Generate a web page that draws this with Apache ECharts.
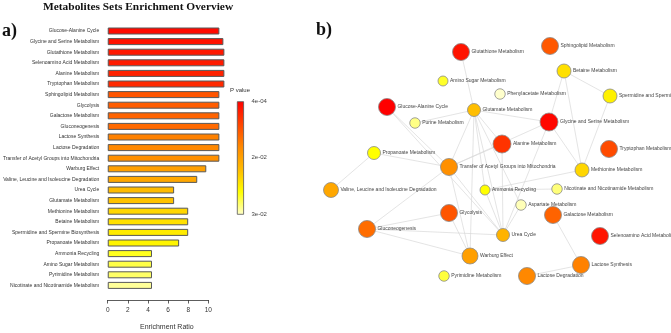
<!DOCTYPE html>
<html>
<head>
<meta charset="utf-8">
<script src="https://cdn.jsdelivr.net/npm/echarts@6/dist/echarts.min.js"></script>
<style>
html,body{margin:0;padding:0;background:#fff;}
#main{width:671px;height:333px;}
</style>
</head>
<body>
<div id="main"></div>
<script>
/* a) 富集条形图 */
var barSets = [
  'Glucose-Alanine Cycle', 'Glycine and Serine Metabolism', 'Glutathione Metabolism',
  'Selenoamino Acid Metabolism', 'Alanine Metabolism', 'Tryptophan Metabolism',
  'Sphingolipid Metabolism', 'Glycolysis', 'Galactose Metabolism', 'Gluconeogenesis',
  'Lactose Synthesis', 'Lactose Degradation', 'Transfer of Acetyl Groups into Mitochondria',
  'Warburg Effect', 'Valine, Leucine and Isoleucine Degradation', 'Urea Cycle',
  'Glutamate Metabolism', 'Methionine Metabolism', 'Betaine Metabolism',
  'Spermidine and Spermine Biosynthesis', 'Propanoate Metabolism', 'Ammonia Recycling',
  'Amino Sugar Metabolism', 'Pyrimidine Metabolism', 'Nicotinate and Nicotinamide Metabolism'
];
var enrichRatio = [11.1, 11.5, 11.6, 11.6, 11.6, 11.6, 11.1, 11.1, 11.1, 11.1, 11.1, 11.1, 11.1,
  9.8, 8.9, 6.6, 6.6, 8.0, 8.0, 8.0, 7.1, 4.4, 4.4, 4.4, 4.4];
// 在P值色条上的位置: 0 = 4e-04 (红), 1 = 3e-02 (浅黄)
var barColorPos = [0.03, 0.05, 0.07, 0.08, 0.10, 0.12, 0.25, 0.27, 0.29, 0.31, 0.38, 0.40, 0.43,
  0.49, 0.52, 0.60, 0.62, 0.68, 0.71, 0.74, 0.77, 0.83, 0.87, 0.90, 0.95];

var xTicks = [0, 2, 4, 6, 8, 10];
var pLabels = ['4e-04', '2e-02', '3e-02'];
var pPalette = ['#ff0000', '#ff4400', '#ff8800', '#ffbb00', '#ffff00', '#ffffcc'];

/* b) 网络图 */
var nodeNames = [
  'Glutathione Metabolism', 'Amino Sugar Metabolism', 'Glucose-Alanine Cycle', 'Glutamate Metabolism',
  'Purine Metabolism', 'Propanoate Metabolism', 'Transfer of Acetyl Groups into Mitochondria',
  'Sphingolipid Metabolism', 'Betaine Metabolism', 'Phenylacetate Metabolism',
  'Spermidine and Spermine Biosynthesis', 'Glycine and Serine Metabolism', 'Alanine Metabolism',
  'Tryptophan Metabolism', 'Methionine Metabolism', 'Valine, Leucine and Isoleucine Degradation',
  'Ammonia Recycling', 'Nicotinate and Nicotinamide Metabolism', 'Aspartate Metabolism',
  'Glycolysis', 'Galactose Metabolism', 'Gluconeogenesis', 'Urea Cycle',
  'Selenoamino Acid Metabolism', 'Warburg Effect', 'Lactose Synthesis',
  'Pyrimidine Metabolism', 'Lactose Degradation'
];
var nodeX = [161, 143, 87, 174, 115, 74, 149, 250, 264, 200, 310, 249, 202, 309, 282, 31,
  185, 257, 221, 149, 253, 67, 203, 300, 170, 281, 144, 227];
var nodeY = [52, 81, 107, 110, 123, 153, 167, 46, 71, 94, 96, 122, 144, 149, 170, 190,
  190, 189, 205, 213, 215, 229, 235, 236, 256, 265, 276, 276];
var nodeSize = [17, 10, 17, 13, 10.5, 13, 17, 17, 14, 10.5, 14, 18, 18, 17, 14, 15,
  10, 10.5, 10.5, 17, 17, 17, 13, 17, 16, 17, 10.5, 17];
var nodeColorPos = [0.06, 0.84, 0.0, 0.61, 0.93, 0.80, 0.43, 0.26, 0.71, 1.0, 0.76, 0.02, 0.15,
  0.22, 0.68, 0.52, 0.80, 0.92, 0.98, 0.25, 0.29, 0.32, 0.57, 0.06, 0.49, 0.38, 0.86, 0.40];
var edges = [
  ['Glutathione Metabolism', 'Glutamate Metabolism'],
  ['Glucose-Alanine Cycle', 'Transfer of Acetyl Groups into Mitochondria'],
  ['Glucose-Alanine Cycle', 'Urea Cycle'],
  ['Purine Metabolism', 'Glutamate Metabolism'],
  ['Propanoate Metabolism', 'Transfer of Acetyl Groups into Mitochondria'],
  ['Propanoate Metabolism', 'Valine, Leucine and Isoleucine Degradation'],
  ['Glutamate Metabolism', 'Transfer of Acetyl Groups into Mitochondria'],
  ['Glutamate Metabolism', 'Alanine Metabolism'],
  ['Glutamate Metabolism', 'Glycine and Serine Metabolism'],
  ['Glutamate Metabolism', 'Ammonia Recycling'],
  ['Glutamate Metabolism', 'Urea Cycle'],
  ['Glutamate Metabolism', 'Warburg Effect'],
  ['Glutamate Metabolism', 'Aspartate Metabolism'],
  ['Betaine Metabolism', 'Glycine and Serine Metabolism'],
  ['Betaine Metabolism', 'Spermidine and Spermine Biosynthesis'],
  ['Betaine Metabolism', 'Methionine Metabolism'],
  ['Spermidine and Spermine Biosynthesis', 'Methionine Metabolism'],
  ['Glycine and Serine Metabolism', 'Methionine Metabolism'],
  ['Glycine and Serine Metabolism', 'Urea Cycle'],
  ['Alanine Metabolism', 'Transfer of Acetyl Groups into Mitochondria'],
  ['Alanine Metabolism', 'Urea Cycle'],
  ['Transfer of Acetyl Groups into Mitochondria', 'Gluconeogenesis'],
  ['Transfer of Acetyl Groups into Mitochondria', 'Warburg Effect'],
  ['Transfer of Acetyl Groups into Mitochondria', 'Urea Cycle'],
  ['Transfer of Acetyl Groups into Mitochondria', 'Glycine and Serine Metabolism'],
  ['Gluconeogenesis', 'Glycolysis'],
  ['Gluconeogenesis', 'Warburg Effect'],
  ['Gluconeogenesis', 'Urea Cycle'],
  ['Glycolysis', 'Warburg Effect'],
  ['Ammonia Recycling', 'Urea Cycle'],
  ['Ammonia Recycling', 'Methionine Metabolism'],
  ['Ammonia Recycling', 'Nicotinate and Nicotinamide Metabolism'],
  ['Aspartate Metabolism', 'Urea Cycle'],
  ['Galactose Metabolism', 'Lactose Synthesis'],
  ['Lactose Synthesis', 'Lactose Degradation']
];

function pColor(t) {
  return echarts.color.lerp(t, pPalette);
}

var sansFont = '"Liberation Sans", Arial, sans-serif';
var serifFont = '"Liberation Serif", "Times New Roman", serif';

var myChart = echarts.init(document.getElementById('main'));

var option = {
  animation: false,
  backgroundColor: '#fff',
  grid: [
    {left: 107.7, top: 25.7, width: 100.6, height: 265},
    {left: 300, top: 0, width: 371, height: 333}
  ],
  xAxis: [
    {
      gridIndex: 0,
      type: 'value',
      min: xTicks[0],
      max: xTicks[xTicks.length - 1],
      interval: 2,
      offset: 9.3,
      splitLine: {show: false},
      axisLine: {show: true, lineStyle: {color: '#333', width: 0.8}},
      axisTick: {show: true, length: 3.5, lineStyle: {color: '#333', width: 0.8}},
      axisLabel: {fontSize: 6.5, color: '#333', margin: 7, fontFamily: sansFont}
    },
    {gridIndex: 1, type: 'value', min: 0, max: 371, show: false}
  ],
  yAxis: [
    {
      gridIndex: 0,
      type: 'category',
      inverse: true,
      data: barSets,
      axisLine: {show: false},
      axisTick: {show: false},
      axisLabel: {interval: 0, fontSize: 5, color: '#333', margin: 8.5, fontFamily: sansFont}
    },
    {gridIndex: 1, type: 'value', min: 0, max: 333, inverse: true, show: false}
  ],
  series: [
    {
      name: 'Enrichment Ratio',
      type: 'bar',
      xAxisIndex: 0,
      yAxisIndex: 0,
      clip: false,
      barWidth: 7,
      itemStyle: {borderColor: '#585858', borderWidth: 1},
      emphasis: {disabled: true},
      data: barSets.map(function (n, i) {
        return {value: enrichRatio[i], itemStyle: {color: pColor(barColorPos[i])}};
      })
    },
    {
      type: 'graph',
      coordinateSystem: 'cartesian2d',
      xAxisIndex: 1,
      yAxisIndex: 1,
      roam: false,
      emphasis: {disabled: true},
      itemStyle: {borderColor: '#8a8a8a', borderWidth: 0.8},
      lineStyle: {color: '#d9d9d9', width: 0.7, opacity: 1, curveness: 0},
      label: {show: true, position: 'right', distance: 1.5, fontSize: 5, color: '#444', fontFamily: sansFont},
      data: nodeNames.map(function (n, i) {
        return {
          name: n,
          value: [nodeX[i], nodeY[i]],
          symbolSize: nodeSize[i],
          itemStyle: {color: pColor(nodeColorPos[i])}
        };
      }),
      links: edges.map(function (e) {
        return {source: e[0], target: e[1]};
      })
    }
  ],
  graphic: [
    {
      type: 'text', left: 43, top: 2,
      style: {text: 'Metabolites Sets Enrichment Overview', font: 'bold 11.4px ' + serifFont, fill: '#111'}
    },
    {
      type: 'text', left: 2, top: 22,
      style: {text: 'a)', font: 'bold 18px ' + serifFont, fill: '#111'}
    },
    {
      type: 'text', left: 316, top: 21,
      style: {text: 'b)', font: 'bold 18px ' + serifFont, fill: '#111'}
    },
    {
      type: 'text', left: 140, top: 323.5,
      style: {text: 'Enrichment Ratio', font: '7px ' + sansFont, fill: '#333'}
    },
    {
      type: 'text', left: 230, top: 87.5,
      style: {text: 'P value', font: '6px ' + sansFont, fill: '#333'}
    },
    {
      type: 'rect',
      shape: {x: 237.3, y: 101.7, width: 6.3, height: 112.6},
      style: {
        fill: new echarts.graphic.LinearGradient(0, 0, 0, 1, pPalette.map(function (c, i) {
          return {offset: i / (pPalette.length - 1), color: c};
        })),
        stroke: '#555',
        lineWidth: 0.8
      }
    },
    {
      type: 'text', left: 251.5, top: 98,
      style: {text: pLabels[0], font: '6px ' + sansFont, fill: '#444'}
    },
    {
      type: 'text', left: 251.5, top: 154.5,
      style: {text: pLabels[1], font: '6px ' + sansFont, fill: '#444'}
    },
    {
      type: 'text', left: 251.5, top: 211,
      style: {text: pLabels[2], font: '6px ' + sansFont, fill: '#444'}
    }
  ]
};
myChart.setOption(option);
</script>
</body>
</html>
